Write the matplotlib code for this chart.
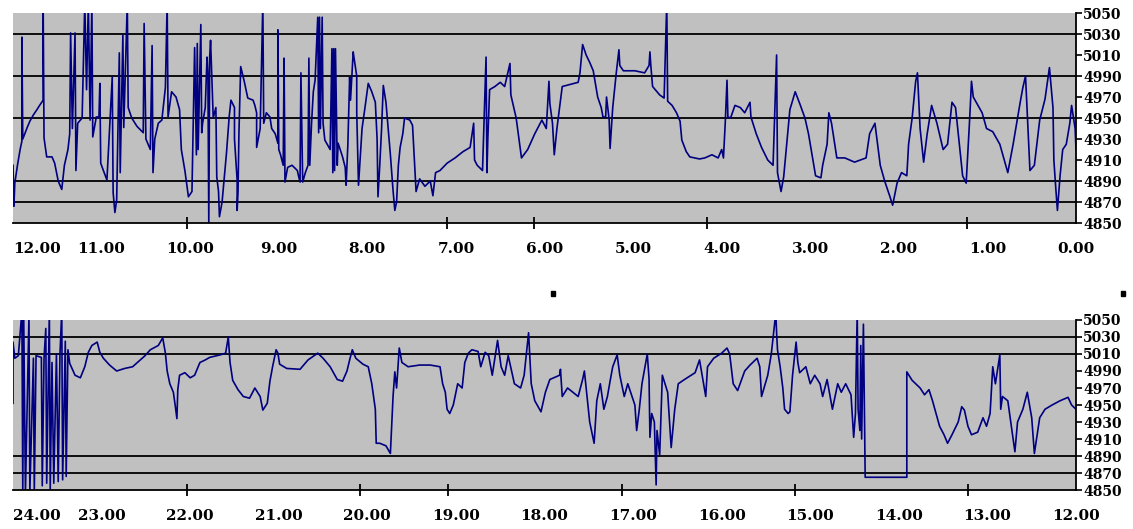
import matplotlib.pyplot as plt
from matplotlib.patches import Rectangle

# top panel: 12.00 -> 0.00 (hours)
top_hours = [12.00, 11.99, 11.98, 11.95, 11.92, 11.90, 11.90, 11.89, 11.84, 11.81, 11.77, 11.73,
             11.70, 11.66, 11.66, 11.65, 11.62, 11.56, 11.53, 11.49, 11.45, 11.42, 11.38, 11.36,
             11.35, 11.33, 11.30, 11.29, 11.27, 11.22, 11.19, 11.17, 11.15, 11.13, 11.11, 11.10,
             11.06, 11.03, 11.02, 11.01, 10.98, 10.94, 10.88, 10.87, 10.85, 10.83, 10.80, 10.79,
             10.76, 10.75, 10.71, 10.70, 10.66, 10.60, 10.53, 10.52, 10.50, 10.45, 10.43, 10.42,
             10.40, 10.36, 10.32, 10.28, 10.26, 10.25, 10.21, 10.16, 10.12, 10.10, 10.06, 10.02,
             9.98, 9.95, 9.93, 9.92, 9.91, 9.88, 9.87, 9.86, 9.83, 9.81, 9.80, 9.79,
             9.78, 9.77, 9.74, 9.71, 9.70, 9.68, 9.67, 9.64, 9.61, 9.59, 9.57, 9.56,
             9.54, 9.50, 9.50, 9.47, 9.47, 9.46, 9.45, 9.43, 9.39, 9.37, 9.35, 9.29,
             9.27, 9.25, 9.25, 9.21, 9.18, 9.17, 9.14, 9.10, 9.08, 9.04, 9.01, 9.01,
             9.00, 8.98, 8.95, 8.94, 8.93, 8.90, 8.85, 8.79, 8.78, 8.76, 8.75, 8.73,
             8.70, 8.67, 8.66, 8.65, 8.63, 8.61, 8.59, 8.56, 8.55, 8.54, 8.53, 8.51,
             8.50, 8.48, 8.42, 8.40, 8.39, 8.38, 8.37, 8.36, 8.34, 8.33, 8.28, 8.25,
             8.24, 8.22, 8.20, 8.19, 8.16, 8.15, 8.12, 8.12, 8.11, 8.10, 8.06, 8.03,
             7.99, 7.95, 7.91, 7.89, 7.88, 7.86, 7.84, 7.82, 7.79, 7.77, 7.74, 7.71,
             7.69, 7.67, 7.65, 7.63, 7.60, 7.58, 7.52, 7.49, 7.47, 7.45, 7.41, 7.35,
             7.29, 7.26, 7.23, 7.18, 7.10, 7.01, 6.92, 6.84, 6.80, 6.79, 6.76, 6.70,
             6.66, 6.65, 6.64, 6.62, 6.56, 6.50, 6.45, 6.39, 6.38, 6.32, 6.26, 6.19,
             6.11, 6.03, 5.98, 5.95, 5.94, 5.91, 5.89, 5.86, 5.80, 5.71, 5.62, 5.60,
             5.57, 5.53, 5.49, 5.45, 5.40, 5.36, 5.34, 5.31, 5.30, 5.27, 5.26, 5.23,
             5.19, 5.16, 5.15, 5.11, 4.98, 4.87, 4.82, 4.81, 4.80, 4.78, 4.70, 4.65,
             4.62, 4.61, 4.56, 4.51, 4.47, 4.45, 4.40, 4.36, 4.25, 4.19, 4.11, 4.04,
             4.00, 3.98, 3.96, 3.94, 3.93, 3.90, 3.85, 3.79, 3.74, 3.68, 3.67, 3.61,
             3.55, 3.48, 3.42, 3.38, 3.37, 3.33, 3.30, 3.26, 3.23, 3.17, 3.12, 3.06,
             3.02, 2.98, 2.94, 2.88, 2.86, 2.81, 2.79, 2.76, 2.70, 2.61, 2.50, 2.37,
             2.33, 2.27, 2.21, 2.16, 2.10, 2.07, 2.02, 1.97, 1.91, 1.89, 1.85, 1.81,
             1.79, 1.76, 1.72, 1.68, 1.63, 1.57, 1.50, 1.45, 1.40, 1.36, 1.31, 1.28,
             1.24, 1.20, 1.18, 1.16, 1.06, 1.01, 0.94, 0.86, 0.77, 0.71, 0.66, 0.63,
             0.60, 0.57, 0.52, 0.47, 0.41, 0.35, 0.30, 0.26, 0.25, 0.23, 0.21, 0.18,
             0.15, 0.11, 0.07, 0.05, 0.01, 0.00]
top_vals = [4905, 4866, 4888, 4905, 4920, 4928, 5027, 4930, 4941, 4947, 4953, 4958,
            4962, 4967, 5060, 4931, 4913, 4913, 4907, 4890, 4882, 4905, 4920, 4935,
            5031, 4940, 5031, 4900, 4945, 4950, 5060, 4977, 5060, 4948, 5060, 4932,
            4951, 4951, 4983, 4907, 4900, 4891, 4989, 4879, 4860, 4872, 5012, 4898,
            5029, 4941, 5060, 4960, 4950, 4942, 4936, 5040, 4930, 4920, 5019, 4898,
            4930, 4945, 4948, 4979, 5060, 4951, 4975, 4970, 4958, 4920, 4900, 4875,
            4880, 5017, 4915, 5021, 4920, 5039, 4936, 4945, 4960, 5008, 4993, 4850,
            5008, 5024, 4950, 4960, 4894, 4880, 4856, 4870, 4898, 4917, 4940, 4951,
            4967, 4960, 4930, 4891, 4862, 4880, 4935, 4999, 4985, 4977, 4969, 4967,
            4962, 4955, 4922, 4940, 5060, 4945, 4955, 4951, 4940, 4935, 4926, 5034,
            4920, 4915, 4905, 5007, 4889, 4903, 4905, 4900, 4896, 4889, 4993, 4889,
            4898, 4905, 5007, 4905, 4945, 4975, 4986, 5046, 4936, 5046, 4940, 5046,
            4945, 4929, 4920, 5016, 4898, 5016, 4900, 5016, 4905, 4926, 4913, 4903,
            4886, 4925, 4989, 4967, 5013, 5007, 4990, 4955, 4920, 4886, 4940, 4958,
            4983, 4975, 4965, 4930, 4875, 4905, 4939, 4981, 4965, 4945, 4915, 4881,
            4862, 4870, 4905, 4922, 4935, 4950, 4948, 4943, 4912, 4880, 4892, 4885,
            4890, 4876, 4898, 4900, 4907, 4912, 4918, 4922, 4945, 4910, 4905, 4900,
            5008, 4898, 4930, 4977, 4980, 4984, 4980, 5002, 4972, 4950, 4912, 4920,
            4935, 4948, 4940, 4985, 4964, 4945, 4915, 4940, 4980, 4982, 4984, 4993,
            5020, 5010, 5003, 4995, 4970, 4960, 4951, 4951, 4970, 4948, 4921, 4960,
            4993, 5015, 5000, 4995, 4995, 4993, 5000, 5013, 5000, 4980, 4972, 4969,
            5060, 4966, 4962, 4955, 4947, 4929, 4918, 4913, 4911, 4912, 4915, 4912,
            4920, 4912, 4945, 4986, 4951, 4950, 4962, 4960, 4955, 4965, 4951, 4935,
            4922, 4910, 4905, 5010, 4898, 4880, 4894, 4930, 4958, 4975, 4964, 4950,
            4935, 4915, 4895, 4893, 4905, 4925, 4955, 4945, 4912, 4912, 4908, 4912,
            4935, 4945, 4905, 4890, 4875, 4867, 4888, 4898, 4895, 4925, 4950, 4985,
            4993, 4940, 4908, 4935, 4962, 4945, 4920, 4925, 4965, 4960, 4920, 4895,
            4888, 4950, 4985, 4970, 4955, 4940, 4937, 4925, 4898, 4925, 4950, 4965,
            4979, 4990, 4900, 4905, 4948, 4968, 4998, 4960, 4910, 4885, 4862, 4895,
            4920, 4925, 4945, 4962, 4940, 4920]

# bottom panel: 24.00 -> 12.00
bot_hours = [24.00, 24.00, 23.98, 23.94, 23.90, 23.89, 23.88, 23.86, 23.83, 23.82, 23.81, 23.77,
             23.76, 23.74, 23.68, 23.67, 23.65, 23.63, 23.62, 23.59, 23.58, 23.56, 23.54, 23.51,
             23.49, 23.47, 23.45, 23.44, 23.41, 23.40, 23.38, 23.36, 23.30, 23.24, 23.19, 23.15,
             23.11, 23.05, 23.02, 22.98, 22.91, 22.83, 22.74, 22.65, 22.51, 22.45, 22.36, 22.31,
             22.28, 22.26, 22.23, 22.19, 22.17, 22.15, 22.14, 22.12, 22.06, 22.00, 21.95, 21.89,
             21.83, 21.78, 21.66, 21.60, 21.57, 21.55, 21.52, 21.46, 21.40, 21.33, 21.27, 21.21,
             21.18, 21.13, 21.10, 21.07, 21.03, 21.01, 20.99, 20.91, 20.76, 20.67, 20.56, 20.50,
             20.42, 20.34, 20.28, 20.23, 20.20, 20.17, 20.13, 20.05, 19.99, 19.95, 19.91, 19.90,
             19.86, 19.79, 19.74, 19.73, 19.71, 19.69, 19.67, 19.64, 19.61, 19.54, 19.41, 19.29,
             19.18, 19.15, 19.12, 19.10, 19.07, 19.03, 18.98, 18.93, 18.90, 18.86, 18.82, 18.75,
             18.72, 18.67, 18.63, 18.59, 18.53, 18.49, 18.45, 18.41, 18.34, 18.27, 18.23, 18.18,
             18.15, 18.11, 18.04, 17.99, 17.94, 17.83, 17.82, 17.80, 17.74, 17.62, 17.57, 17.55,
             17.52, 17.49, 17.44, 17.41, 17.37, 17.33, 17.29, 17.26, 17.23, 17.18, 17.15, 17.10,
             17.06, 16.98, 16.96, 16.93, 16.90, 16.84, 16.82, 16.81, 16.79, 16.76, 16.74, 16.73,
             16.70, 16.67, 16.61, 16.57, 16.53, 16.49, 16.42, 16.30, 16.25, 16.18, 16.16, 16.09,
             16.00, 15.94, 15.91, 15.87, 15.82, 15.74, 15.68, 15.60, 15.57, 15.55, 15.48, 15.44,
             15.40, 15.39, 15.38, 15.37, 15.34, 15.31, 15.29, 15.25, 15.23, 15.20, 15.16, 15.14,
             15.12, 15.05, 15.00, 14.95, 14.89, 14.86, 14.81, 14.75, 14.69, 14.65, 14.60, 14.54,
             14.51, 14.49, 14.47, 14.46, 14.44, 14.43, 14.42, 14.40, 14.38, 14.21, 14.05, 13.91,
             13.91, 13.85, 13.76, 13.71, 13.66, 13.62, 13.58, 13.54, 13.49, 13.45, 13.40, 13.33,
             13.29, 13.26, 13.22, 13.18, 13.11, 13.05, 13.01, 12.97, 12.94, 12.91, 12.86, 12.85,
             12.83, 12.77, 12.73, 12.69, 12.66, 12.60, 12.55, 12.50, 12.47, 12.41, 12.35, 12.27,
             12.18, 12.09, 12.05, 12.00]
bot_vals = [4952, 5024, 5005, 5008, 5060, 4848, 5060, 4848, 5005, 5055, 4848, 5005,
            4848, 5008, 5006, 4855, 5005, 5040, 4858, 5060, 4850, 5000, 4858, 5010,
            4860, 5010, 5060, 4862, 5025, 4866, 5015, 4999, 4985, 4982, 4995, 5012,
            5020, 5024, 5012, 5005, 4997, 4990, 4993, 4995, 5008, 5015, 5020, 5029,
            5011, 4990, 4975, 4965, 4950, 4934, 4968, 4985, 4988, 4982, 4985, 5000,
            5003, 5006, 5009, 5011, 5030, 5000, 4979, 4968, 4960, 4958, 4970, 4960,
            4944, 4952, 4978, 4995, 5015, 5011, 4998, 4993, 4992, 5003, 5011, 5005,
            4995, 4980, 4978, 4990, 5003, 5015, 5005, 4998, 4995, 4975, 4945, 4905,
            4905, 4902, 4893, 4915, 4960, 4989, 4970, 5017, 5000, 4995, 4997, 4997,
            4995, 4975, 4965, 4945, 4940, 4950, 4975, 4970, 5000, 5011, 5015, 5013,
            4995, 5012, 5008, 4985, 5026, 4995, 4985, 5008, 4975, 4970, 4985, 5035,
            4975, 4955, 4942, 4965, 4980, 4985, 4992, 4960, 4970, 4960, 4980, 4990,
            4960, 4930, 4905, 4955, 4975, 4945, 4960, 4978, 4995, 5009, 4985, 4960,
            4975, 4950, 4920, 4945, 4975, 5010, 4981, 4912, 4940, 4930, 4856, 4920,
            4891, 4985, 4965, 4900, 4945, 4975, 4980, 4988, 5003, 4960, 4995, 5005,
            5011, 5017, 5010, 4975, 4967, 4990, 4997, 5005, 4995, 4960, 4985, 5010,
            5048, 5060, 5035, 5015, 4995, 4970, 4945, 4940, 4942, 4985, 5024, 5000,
            4988, 4995, 4975, 4985, 4975, 4960, 4980, 4945, 4975, 4965, 4975, 4962,
            4912, 4940, 5060, 4945, 4920, 5020, 4910, 5045, 4865, 4865, 4865, 4865,
            4989, 4979, 4970, 4962, 4968, 4955, 4940, 4925, 4915, 4905, 4915, 4930,
            4948, 4944, 4925, 4915, 4918, 4935, 4925, 4940, 4995, 4975, 5009, 4945,
            4960, 4955, 4925, 4895, 4930, 4945, 4965, 4935, 4893, 4935, 4945, 4950,
            4955, 4959, 4950, 4945]

top_ticks = [12, 11, 10, 9, 8, 7, 6, 5, 4, 3, 2, 1, 0]
top_labels = ['12.00', '11.00', '10.00', '9.00', '8.00', '7.00', '6.00', '5.00', '4.00',
              '3.00', '2.00', '1.00', '0.00']
top_marks = [12, 10.04, 7.10, 6.12, 4.17, 1.23, 0]
top_grid = [5030, 4990, 4950, 4890, 4870]

bot_ticks = [24, 23, 22, 21, 20, 19, 18, 17, 16, 15, 14, 13, 12]
bot_labels = ['24.00', '23.00', '22.00', '21.00', '20.00', '19.00', '18.00', '17.00', '16.00',
              '15.00', '14.00', '13.00', '12.00']
bot_marks = [24, 22.04, 20.08, 19.09, 17.13, 15.17, 13.22, 12]
bot_grid = [5030, 5010, 4890, 4870]

y_ticks = list(range(4850, 5051, 20))

fig = plt.figure(figsize=(11.33, 5.29), dpi=100)
ax1 = fig.add_axes([0.0115, 0.5784, 0.9382, 0.397])
ax2 = fig.add_axes([0.0115, 0.0737, 0.9382, 0.3214])


def style(ax, xlim, ticks, labels, marks, grid):
    ax.set_facecolor('#c0c0c0')
    ax.set_xlim(xlim)
    ax.set_ylim(4850, 5050)
    for g in grid:
        ax.axhline(g, color='black', lw=1.3, zorder=1)
    ax.spines['top'].set_visible(False)
    ax.spines['left'].set_visible(False)
    ax.spines['right'].set_linewidth(1.3)
    ax.spines['bottom'].set_linewidth(1.3)
    ax.yaxis.tick_right()
    ax.set_yticks(y_ticks)
    ax.set_yticklabels([str(v) for v in y_ticks], fontfamily='DejaVu Serif',
                       fontweight='bold', fontsize=10)
    ax.tick_params(axis='y', direction='out', length=4, width=1.2, pad=1)
    ax.set_xticks(ticks)
    ax.set_xticklabels(labels, fontfamily='DejaVu Serif', fontweight='bold', fontsize=11)
    ax.tick_params(axis='x', which='major', length=0, pad=14)
    ax.set_xticks(marks, minor=True)
    ax.tick_params(axis='x', which='minor', direction='inout', length=8, width=1.3)
    ax.get_xticklabels()[0].set_ha('left')


style(ax1, (12, 0), top_ticks, top_labels, top_marks, top_grid)
style(ax2, (24, 12), bot_ticks, bot_labels, bot_marks, bot_grid)

ax1.plot(top_hours, top_vals, color='#000080', lw=1.2, zorder=2)
ax2.plot(bot_hours, bot_vals, color='#000080', lw=1.2, zorder=2)

# two small black marks between the panels
for fx in (551, 1121):
    fig.add_artist(Rectangle((fx / 1133, 1 - 296 / 529), 4 / 1133, 5 / 529,
                             transform=fig.transFigure, color='black'))

fig.savefig('out.png', dpi=100)
